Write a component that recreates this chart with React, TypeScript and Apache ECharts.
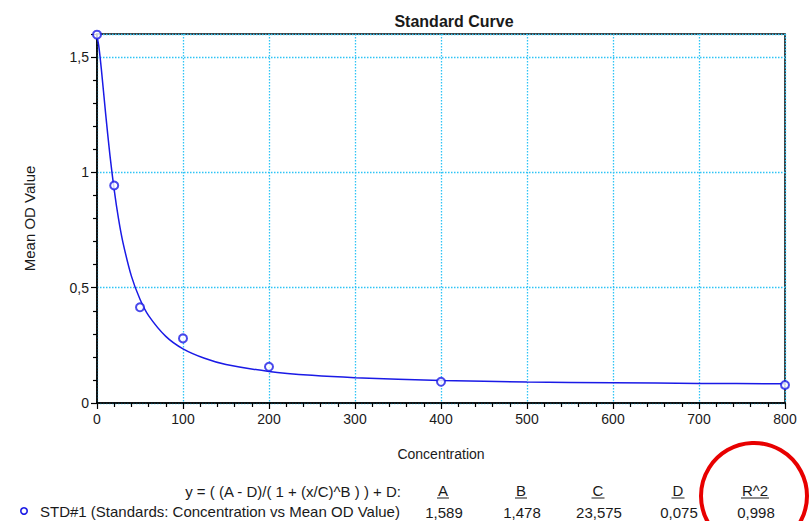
import React, { useEffect, useRef } from "react";
import * as echarts from "echarts";

const titleText = "Standard Curve";
const xAxisName = "Concentration";
const yAxisName = "Mean OD Value";

const stdConc = [0, 20, 50, 100, 200, 400, 800];
const stdOD = [1.597, 0.943, 0.415, 0.28, 0.157, 0.092, 0.078];

// Fitted curve, points
const curveConc = [0, 2, 5, 10, 15, 20, 25, 30, 40, 50, 60, 80, 100, 125, 150, 200, 250, 300, 400, 500, 600, 700, 800];
const curveOD = [1.589, 1.55, 1.45, 1.256, 1.076, 0.924, 0.799, 0.699, 0.55, 0.45, 0.379, 0.289, 0.235, 0.194, 0.167, 0.137, 0.12, 0.11, 0.098, 0.091, 0.088, 0.085, 0.083];

const formulaText = "y = ( (A - D)/( 1 + (x/C)^B ) ) + D:";
const legendText = "STD#1 (Standards: Concentration vs Mean OD Value)";
const paramNames = ["A", "B", "C", "D", "R^2"];
const paramValues = ["1,589", "1,478", "23,575", "0,075", "0,998"];

const FONT = "'Liberation Sans', Arial, sans-serif";
const TXT = "#1a1a1a";
const BLUE = "#1a1ae6";
const GRID = "#2ec4f5";

export default function App() {
  const ref = useRef<HTMLDivElement>(null);
  useEffect(() => {
    if (!ref.current) return;
    const chart = echarts.init(ref.current, null, { renderer: "svg" });
    const colX = [443, 521, 598, 678, 755];
    const ulW = [12, 12, 13, 13, 28];
    const graphics: any[] = [
      {
        type: "text",
        x: 401,
        y: 491,
        style: { text: formulaText, font: `15px ${FONT}`, fill: TXT, verticalAlign: "middle", textAlign: "right" },
      },
      {
        type: "circle",
        shape: { cx: 24, cy: 511, r: 3.2 },
        style: { fill: "none", stroke: BLUE, lineWidth: 1.6 },
      },
      {
        type: "text",
        x: 40,
        y: 511,
        style: { text: legendText, font: `15px ${FONT}`, fill: TXT, verticalAlign: "middle", textAlign: "left" },
      },
    ];
    paramNames.forEach((n, i) => {
      graphics.push({
        type: "text",
        x: colX[i],
        y: 490,
        style: { text: n, font: `15px ${FONT}`, fill: TXT, verticalAlign: "middle", textAlign: "center" },
      });
      graphics.push({
        type: "line",
        shape: { x1: colX[i] - ulW[i] / 2, y1: 498, x2: colX[i] + ulW[i] / 2, y2: 498 },
        style: { stroke: TXT, lineWidth: 1 },
      });
      graphics.push({
        type: "text",
        x: colX[i] + 1,
        y: 512,
        style: { text: paramValues[i], font: `15px ${FONT}`, fill: TXT, verticalAlign: "middle", textAlign: "center" },
      });
    });
    graphics.push({
      type: "circle",
      shape: { cx: 754, cy: 496, r: 53 },
      style: { fill: "none", stroke: "#e80000", lineWidth: 4 },
      z: 100,
    });

    const fmt = (v: number) => String(v).replace(".", ",");

    chart.setOption({
      animation: false,
      backgroundColor: "#ffffff",
      title: {
        text: titleText,
        left: 449,
        top: 8,
        textAlign: "center",
        textStyle: { fontFamily: FONT, fontSize: 16, fontWeight: "bold", color: TXT },
      },
      grid: {
        left: 97,
        right: 25,
        top: 34,
        bottom: 118,
        show: true,
        borderColor: "#000",
        borderWidth: 1.5,
        containLabel: false,
      },
      xAxis: {
        type: "value",
        min: 0,
        max: 800,
        interval: 100,
        name: xAxisName,
        nameLocation: "middle",
        nameGap: 44,
        nameTextStyle: { fontFamily: FONT, fontSize: 14, color: TXT },
        axisLine: { lineStyle: { color: "#000", width: 1.5 } },
        axisTick: { length: 6, lineStyle: { color: "#000", width: 1.2 } },
        minorTick: { show: true, splitNumber: 5, length: 4, lineStyle: { color: "#000", width: 1.2 } },
        axisLabel: { fontFamily: FONT, fontSize: 14, color: TXT, margin: 9, formatter: fmt },
        splitLine: { show: true, lineStyle: { color: GRID, type: [1.5, 1.5], width: 1.3 } },
      },
      yAxis: {
        type: "value",
        min: 0,
        max: 1.6,
        interval: 0.5,
        name: yAxisName,
        nameLocation: "middle",
        nameGap: 60,
        nameRotate: 90,
        nameTextStyle: { fontFamily: FONT, fontSize: 15, color: TXT },
        axisLine: { lineStyle: { color: "#000", width: 1.5 } },
        axisTick: { length: 6, lineStyle: { color: "#000", width: 1.2 } },
        minorTick: { show: true, splitNumber: 5, length: 4, lineStyle: { color: "#000", width: 1.2 } },
        axisLabel: { fontFamily: FONT, fontSize: 14, color: TXT, margin: 8, showMaxLabel: false, formatter: fmt },
        splitLine: { show: true, lineStyle: { color: GRID, type: [1.5, 1.5], width: 1.3 } },
      },
      series: [
        {
          type: "line",
          data: curveConc.map((c, i) => [c, curveOD[i]]),
          showSymbol: false,
          smooth: 0.3,
          lineStyle: { color: BLUE, width: 1.5 },
          z: 3,
        },
        {
          type: "scatter",
          data: stdConc.map((c, i) => [c, stdOD[i]]),
          symbol: "emptyCircle",
          symbolSize: 8,
          itemStyle: { color: BLUE, borderColor: BLUE, borderWidth: 1.5 },
          clip: false,
          z: 4,
        },
      ],
      graphic: graphics,
    });
    return () => chart.dispose();
  }, []);
  return <div ref={ref} style={{ position: "fixed", left: 0, top: 0, width: 810, height: 521 }} />;
}
